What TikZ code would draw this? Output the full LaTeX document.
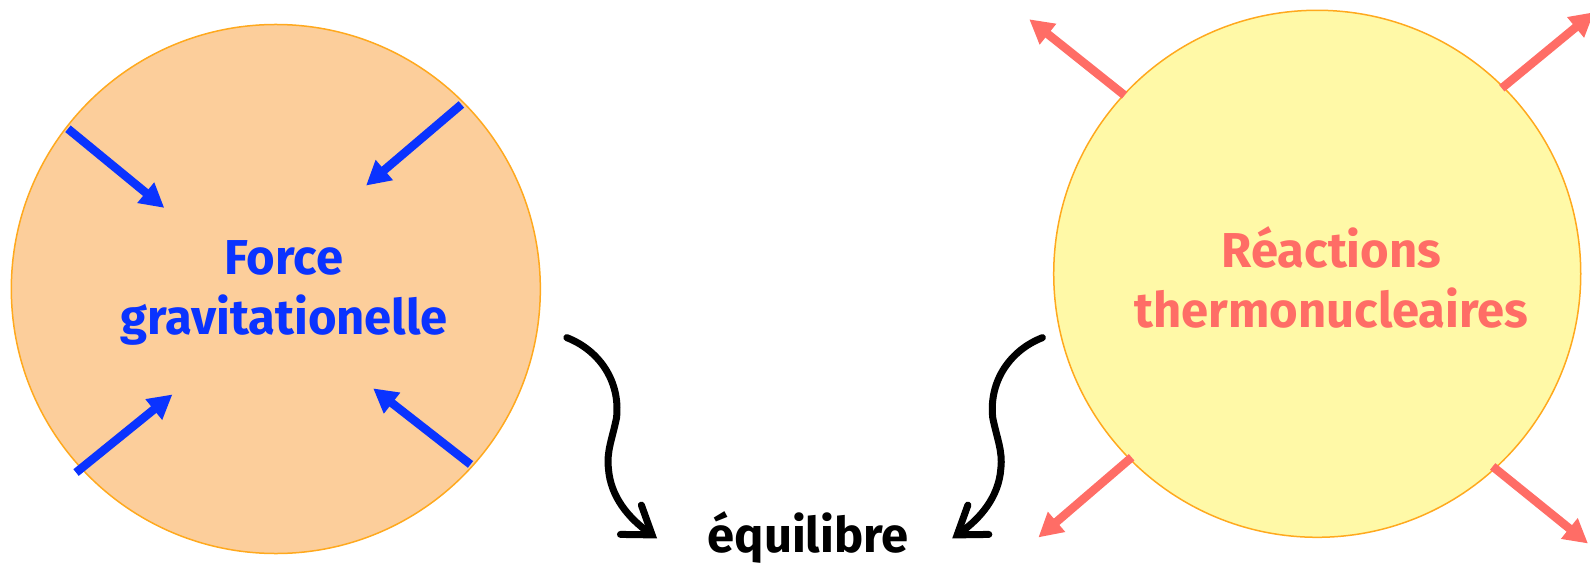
\documentclass[tikz,border=0pt]{standalone}
\usepackage{fontspec}
\setmainfont{Fira Sans}
\usetikzlibrary{arrows.meta}
\definecolor{peche}{HTML}{FCCE9B}
\definecolor{paille}{HTML}{FFF9A7}
\definecolor{bord}{HTML}{FFA91E}
\definecolor{bleu}{HTML}{0A33FF}
\definecolor{saumon}{HTML}{FF6D66}
\tikzset{
  bubble/.style={circle, draw=bord, line width=1.5pt, inner sep=0pt},
  bigtext/.style={font=\fontsize{49}{60}\selectfont\bfseries, align=center},
  inward/.style={bleu, line width=8.5pt, -{Triangle[length=24pt,width=25pt]}},
  outward/.style={saumon, line width=8.5pt, -{Triangle[length=24pt,width=25pt]}},
  wiggle/.style={line width=7pt, line cap=round, -{Straight Barb[length=26pt,width=36pt,line cap=round]}}
}
\begin{document}
\begin{tikzpicture}[x=1.014pt, y=-1.014pt]
        \useasboundingbox (0,0) rectangle (1568,558);
        % the two stars
        \node[bubble, fill=peche, minimum size=529pt] (grav) at (272,285) {};
        \node[bubble, fill=paille, minimum size=527pt] (fusion) at (1299,270) {};
        \node[bigtext, text=bleu] (gravtxt) at (280,289) {Force\\gravitationelle};
        \node[bigtext, text=saumon] (fusiontxt) at (1313,274) {Réactions\\thermonucleaires};
        \node[bigtext, anchor=base] (eq) at (797,545) {équilibre};
        % gravity pushes in
        \coordinate (g1) at (67,127);   \coordinate (h1) at (162,205);
        \coordinate (g2) at (455,103);  \coordinate (h2) at (361,183);
        \coordinate (g3) at (75,466);   \coordinate (h3) at (170,389);
        \coordinate (g4) at (464,458);  \coordinate (h4) at (368,383);
        \foreach \i in {1,...,4}
            \draw[inward] (g\i) -- (h\i);
        % fusion pushes out
        \coordinate (f1) at (1109,94);  \coordinate (k1) at (1015,19);
        \coordinate (f2) at (1481,87);  \coordinate (k2) at (1572,12);
        \coordinate (f3) at (1116,451); \coordinate (k3) at (1024,530);
        \coordinate (f4) at (1472,460); \coordinate (k4) at (1566,536);
        \foreach \i in {1,...,4}
            \draw[outward] (f\i) -- (k\i);
        % both meet in the middle
        \coordinate (wl) at (559,333);  \coordinate (el) at (648,531);
        \coordinate (wr) at (1028,333); \coordinate (er) at (939,531);
        \draw[wiggle] (wl) .. controls (590,345) and (612,375) .. (608,412)
            .. controls (604,432) and (598,445) .. (600,462)
            .. controls (602,490) and (620,511) .. (el);
        \draw[wiggle] (wr) .. controls (997,345) and (975,375) .. (979,412)
            .. controls (983,432) and (989,445) .. (987,462)
            .. controls (985,490) and (967,511) .. (er);
\end{tikzpicture}
\end{document}
